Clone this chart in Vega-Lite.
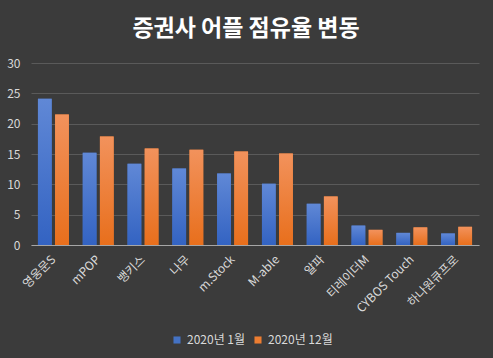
{
  "$schema": "https://vega.github.io/schema/vega-lite/v6.json",
  "width": 448,
  "height": 182,
  "autosize": {"type": "none"},
  "padding": {"left": 31, "top": 63, "right": 14, "bottom": 113},
  "background": "#3b3b3b",
  "title": {
    "text": "증권사 어플 점유율 변동",
    "font": "Noto Sans CJK KR",
    "fontSize": 23,
    "fontWeight": "bold",
    "color": "#ffffff",
    "anchor": "middle",
    "dx": -9,
    "offset": 16
  },
  "data": {
    "values": [
      {"app": "영웅문S", "period": "2020년 1월", "share": 24.1},
      {"app": "영웅문S", "period": "2020년 12월", "share": 21.5},
      {"app": "mPOP", "period": "2020년 1월", "share": 15.2},
      {"app": "mPOP", "period": "2020년 12월", "share": 17.9},
      {"app": "뱅키스", "period": "2020년 1월", "share": 13.4},
      {"app": "뱅키스", "period": "2020년 12월", "share": 15.9},
      {"app": "나무", "period": "2020년 1월", "share": 12.6},
      {"app": "나무", "period": "2020년 12월", "share": 15.7},
      {"app": "m.Stock", "period": "2020년 1월", "share": 11.8},
      {"app": "m.Stock", "period": "2020년 12월", "share": 15.4},
      {"app": "M-able", "period": "2020년 1월", "share": 10.1},
      {"app": "M-able", "period": "2020년 12월", "share": 15.1},
      {"app": "알파", "period": "2020년 1월", "share": 6.8},
      {"app": "알파", "period": "2020년 12월", "share": 8.0},
      {"app": "티레이더M", "period": "2020년 1월", "share": 3.2},
      {"app": "티레이더M", "period": "2020년 12월", "share": 2.5},
      {"app": "CYBOS Touch", "period": "2020년 1월", "share": 2.0},
      {"app": "CYBOS Touch", "period": "2020년 12월", "share": 2.9},
      {"app": "하나원큐프로", "period": "2020년 1월", "share": 1.9},
      {"app": "하나원큐프로", "period": "2020년 12월", "share": 3.0}
    ]
  },
  "encoding": {
    "x": {
      "field": "app",
      "type": "nominal",
      "sort": null,
      "scale": {"paddingInner": 0.31, "paddingOuter": 0.155},
      "axis": {
        "title": null,
        "labelAngle": -45,
        "labelAlign": "right",
        "labelBaseline": "middle",
        "labelFont": "Noto Sans CJK KR",
        "labelFontSize": 12,
        "labelColor": "#d9d9d9",
        "labelPadding": 12,
        "ticks": false,
        "domainColor": "#a6a6a6",
        "domainWidth": 1.2,
        "grid": false
      }
    },
    "xOffset": {
      "field": "period",
      "type": "nominal",
      "sort": null,
      "scale": {"paddingInner": 0.2}
    },
    "y": {
      "field": "share",
      "type": "quantitative",
      "scale": {"domain": [0, 30]},
      "axis": {
        "title": null,
        "values": [0, 5, 10, 15, 20, 25, 30],
        "domain": false,
        "ticks": false,
        "labelFont": "Noto Sans CJK KR",
        "labelFontSize": 12,
        "labelColor": "#d9d9d9",
        "labelPadding": 11,
        "gridColor": "#5a5a5a",
        "gridWidth": 1
      }
    }
  },
  "layer": [
    {
      "mark": {"type": "bar"},
      "encoding": {
        "color": {
          "field": "period",
          "type": "nominal",
          "sort": null,
          "scale": {"range": ["#4472c4", "#ed7d31"]},
          "legend": {
            "title": null,
            "orient": "none",
            "legendX": 140,
            "legendY": 271,
            "direction": "horizontal",
            "symbolType": "square",
            "symbolSize": 50,
            "symbolStrokeWidth": 0,
            "labelFont": "Noto Sans CJK KR",
            "labelFontSize": 12,
            "labelColor": "#d9d9d9",
            "columnPadding": 6
          }
        }
      }
    },
    {
      "transform": [{"filter": "datum.period === '2020년 1월'"}],
      "mark": {
        "type": "bar",
        "color": {"gradient": "linear", "x1": 0, "y1": 0, "x2": 0, "y2": 1, "stops": [{"offset": 0, "color": "#6088d6"}, {"offset": 1, "color": "#3363c2"}]}
      }
    },
    {
      "transform": [{"filter": "datum.period === '2020년 12월'"}],
      "mark": {
        "type": "bar",
        "color": {"gradient": "linear", "x1": 0, "y1": 0, "x2": 0, "y2": 1, "stops": [{"offset": 0, "color": "#f2925c"}, {"offset": 1, "color": "#e86f1c"}]}
      }
    }
  ],
  "config": {
    "view": {"stroke": null}
  }
}
